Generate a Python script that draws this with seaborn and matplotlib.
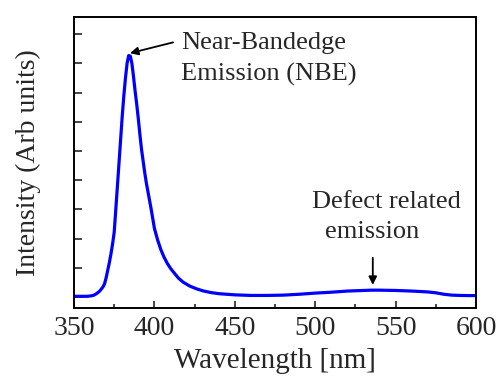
import matplotlib
matplotlib.use("Agg")
import matplotlib.pyplot as plt
import seaborn as sns
import pandas as pd

# Photoluminescence spectrum (arbitrary units)
wavelength = [350, 355, 358, 360, 362, 364, 366, 368, 369, 370, 371, 372, 373, 374, 375,
              376, 377, 378, 379, 380, 381, 382, 383, 384, 385, 386, 387, 388, 389,
              390, 391, 392, 393, 394, 395, 396, 397, 398, 400, 402, 404, 406, 408,
              410, 412, 415, 418, 422, 426, 430, 435, 440, 450, 460, 470, 480, 490,
              500, 510, 520, 530, 535, 540, 550, 560, 570, 575, 580, 585, 590, 595, 600]
intensity = [0.02, 0.02, 0.02, 0.03, 0.05, 0.11, 0.20, 0.34, 0.45, 0.66, 0.92, 1.18, 1.48, 1.82, 2.22,
             3.00, 3.80, 4.60, 5.40, 6.20, 6.90, 7.50, 8.00, 8.27, 8.25, 8.00, 7.55, 7.05, 6.60,
             6.10, 5.55, 5.05, 4.65, 4.25, 3.90, 3.60, 3.30, 3.00, 2.35, 1.95, 1.62, 1.36, 1.15,
             0.98, 0.84, 0.64, 0.50, 0.37, 0.28, 0.21, 0.15, 0.11, 0.07, 0.05, 0.05, 0.06, 0.09,
             0.13, 0.16, 0.20, 0.22, 0.23, 0.23, 0.22, 0.20, 0.17, 0.14, 0.09, 0.06, 0.05, 0.045, 0.045]

x_ticks = [350, 400, 450, 500, 550, 600]
y_ticks = [0, 1, 2, 3, 4, 5, 6, 7, 8, 9]

df = pd.DataFrame({"Wavelength": wavelength, "Intensity": intensity})

sns.set_style("ticks")
plt.rcParams["font.family"] = ["Liberation Serif", "DejaVu Serif"]

fig = plt.figure(figsize=(4.97, 3.76), dpi=100)
ax = fig.add_axes([0.1489, 0.1809, 0.8089, 0.7739])

sns.lineplot(data=df, x="Wavelength", y="Intensity", ax=ax,
             color="#0000ff", linewidth=2.3, estimator=None, sort=False)

ax.set_xlim(350, 600)
ax.set_ylim(-0.38, 9.59)
ax.set_xticks(x_ticks)
ax.set_xticks([375, 425, 475, 525, 575], minor=True)
ax.set_yticks(y_ticks)
ax.set_yticklabels([])
ax.tick_params(axis="x", which="major", direction="in", length=5, width=1.2,
               labelsize=20, pad=6, top=False)
ax.tick_params(axis="x", which="minor", direction="in", length=3, width=1.2, top=False)
ax.tick_params(axis="y", which="major", direction="in", length=6, width=1.2, right=False)

for side in ["left", "right", "top", "bottom"]:
    ax.spines[side].set_visible(True)
    ax.spines[side].set_linewidth(1.4)
    ax.spines[side].set_color("black")

ax.set_xlabel("Wavelength [nm]", fontsize=21, labelpad=5)
ax.set_ylabel("Intensity (Arb units)", fontsize=20, labelpad=20)

# Annotations
ax.annotate("", xy=(384.8, 8.35), xytext=(411.6, 8.72),
            arrowprops=dict(arrowstyle="-|>", color="black", lw=1.3,
                            mutation_scale=12, shrinkA=0, shrinkB=0))
ax.text(416.5, 8.49, "Near-Bandedge", fontsize=19, ha="left", va="baseline")
ax.text(416.5, 7.40, "Emission (NBE)", fontsize=19, ha="left", va="baseline")

ax.annotate("", xy=(535.8, 0.41), xytext=(535.8, 1.34),
            arrowprops=dict(arrowstyle="-|>", color="black", lw=1.3,
                            mutation_scale=12, shrinkA=0, shrinkB=0))
ax.text(544.5, 3.05, "Defect related", fontsize=19, ha="center", va="baseline")
ax.text(535.5, 2.02, "emission", fontsize=19, ha="center", va="baseline")

fig.savefig("out.png", dpi=100)
